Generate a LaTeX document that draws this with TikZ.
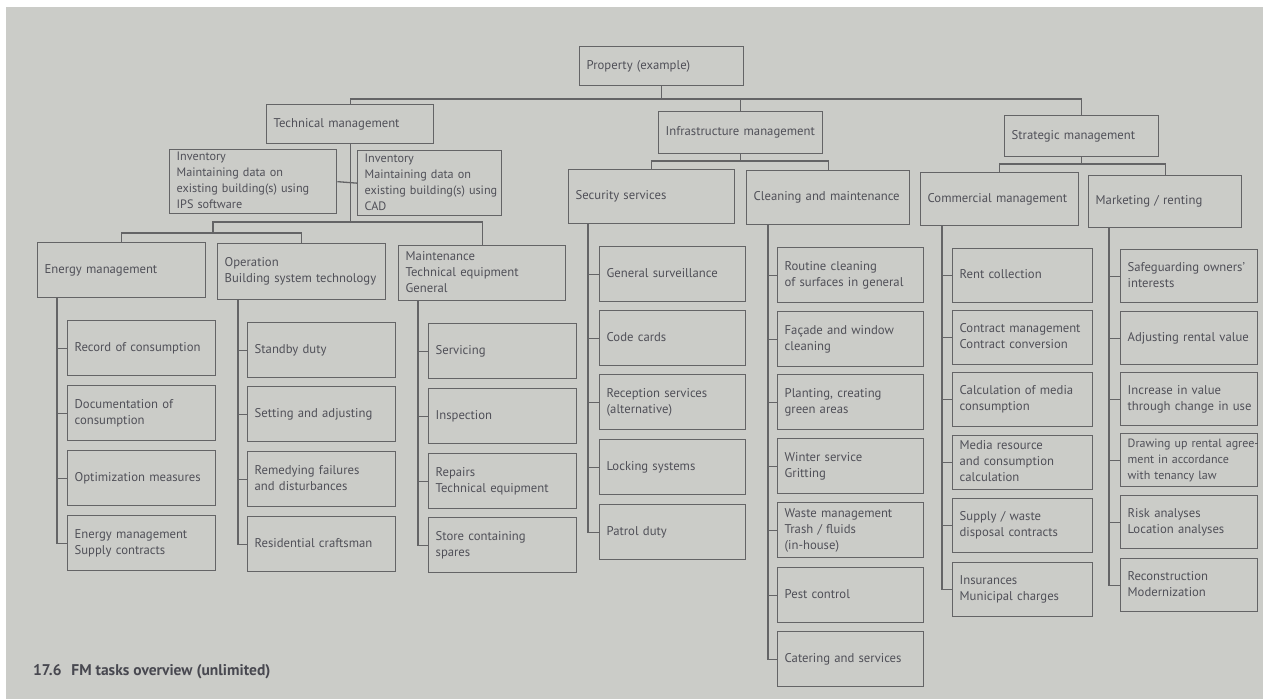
\documentclass[tikz,border=0pt]{standalone}
\usepackage{fontspec}
\setmainfont{PT Sans}
\definecolor{paper}{RGB}{203,204,200}
\definecolor{linec}{RGB}{100,100,102}
\definecolor{textc}{RGB}{80,80,88}
\definecolor{capc}{RGB}{72,72,80}
% lines of a box, kept unbroken
\newcommand\boxtext[1]{\begin{tabular}{@{}l@{}}#1\end{tabular}}
\tikzset{
  box/.style={draw=linec, line width=1.3pt, text=textc,
    font=\fontsize{12.7}{16}\selectfont, inner xsep=7pt, inner ysep=0pt,
    align=left, anchor=north west},
  small/.style={font=\fontsize{12.2}{16}\selectfont},
  link/.style={draw=linec, line width=1.3pt},
  ecol/.style={box, text width=134pt, minimum height=55pt},
  scol/.style={box, text width=132pt, minimum height=55pt},
  kcol/.style={box, text width=126pt, minimum height=54pt},
  mcol/.style={box, text width=123pt, minimum height=53pt},
}
\begin{document}
\begin{tikzpicture}[x=1pt,y=-1pt]
% page and paper
\fill[white] (0,0) rectangle (1263,699);
\fill[paper] (6,7) rectangle (1263,699);
\useasboundingbox (0,0) rectangle (1263,699);

% ---- top levels
\node[box, text width=150pt, minimum height=39pt] (prop) at (579,46) {\boxtext{Property (example)}};
\node[box, text width=153pt, minimum height=39pt] (tm) at (266,104) {\boxtext{Technical management}};
\node[box, text width=150pt, minimum height=42pt] (im) at (658,111) {\boxtext{Infrastructure management}};
\node[box, text width=140pt, minimum height=41pt] (sm) at (1004,115) {\boxtext{Strategic management}};

\coordinate (bus0) at (0,99);
\draw[link] (prop.south) -- (prop.south |- bus0) -| (tm.north);
\draw[link] (prop.south |- bus0) -| (im.north);
\draw[link] (prop.south |- bus0) -| (sm.north);

% ---- technical management
\node[box, small, text width=153pt, minimum height=64pt] (inv1) at (169,149)
  {\boxtext{Inventory\\Maintaining data on\\existing building(s) using\\IPS software}};
\node[box, small, text width=130pt, minimum height=65pt] (inv2) at (357,150)
  {\boxtext{Inventory\\Maintaining data on\\existing building(s) using\\CAD}};
\draw[link] (inv1.east) -- (inv2.west);

\node[box, text width=154pt, minimum height=55pt] (en) at (37,242) {\boxtext{Energy management}};
\node[box, text width=154pt, minimum height=56pt] (op) at (217,243)
  {\boxtext{Operation\\Building system technology}};
\node[box, text width=153pt, minimum height=55pt] (mt) at (398,245)
  {\boxtext{Maintenance\\Technical equipment\\General}};

\coordinate (tbus) at (0,222);
\coordinate (tj) at (213,233);
\draw[link] (tm.south) -- (tm.south |- tbus) -| (mt.north);
\draw[link] (tm.south |- tbus) -| (tj);
\draw[link] (tj) -| (en.north);
\draw[link] (tj) -| (op.north);

\node[ecol] (e1) at (67,320) {\boxtext{Record of consumption}};
\node[ecol] (e2) at (67,385) {\boxtext{Documentation of\\consumption}};
\node[ecol] (e3) at (67,450) {\boxtext{Optimization measures}};
\node[ecol] (e4) at (67,515) {\boxtext{Energy management\\Supply contracts}};
\foreach \c in {e1,e2,e3,e4}
  \draw[link] ([xshift=20pt]en.south west) |- (\c.west);

\node[ecol] (o1) at (247,322) {\boxtext{Standby duty}};
\node[ecol] (o2) at (247,386) {\boxtext{Setting and adjusting}};
\node[ecol] (o3) at (247,451) {\boxtext{Remedying failures\\and disturbances}};
\node[ecol] (o4) at (247,516) {\boxtext{Residential craftsman}};
\foreach \c in {o1,o2,o3,o4}
  \draw[link] ([xshift=21pt]op.south west) |- (\c.west);

\node[ecol] (m1) at (428,323) {\boxtext{Servicing}};
\node[ecol] (m2) at (428,388) {\boxtext{Inspection}};
\node[ecol] (m3) at (428,453) {\boxtext{Repairs\\Technical equipment}};
\node[ecol] (m4) at (428,517) {\boxtext{Store containing\\spares}};
\foreach \c in {m1,m2,m3,m4}
  \draw[link] ([xshift=20pt]mt.south west) |- (\c.west);

% ---- infrastructure management
\node[box, text width=152pt, minimum height=54pt] (ss) at (568,169) {\raisebox{5pt}{\boxtext{Security services}}};
\node[box, text width=149pt, minimum height=54pt] (cl) at (746,170) {\boxtext{Cleaning and maintenance}};
\coordinate (ibus) at (0,161);
\draw[link] (im.south) -- (im.south |- ibus) -| (ss.north);
\draw[link] (im.south |- ibus) -| (cl.north);

\node[scol] (s1) at (599,246) {\boxtext{General surveillance}};
\node[scol] (s2) at (599,310) {\boxtext{Code cards}};
\node[scol] (s3) at (599,374) {\boxtext{Reception services\\(alternative)}};
\node[scol] (s4) at (599,439) {\boxtext{Locking systems}};
\node[scol] (s5) at (599,504) {\boxtext{Patrol duty}};
\foreach \c in {s1,s2,s3,s4,s5}
  \draw[link] ([xshift=20pt]ss.south west) |- (\c.west);

\node[scol] (c1) at (777,247) {\boxtext{Routine cleaning\\of surfaces in general}};
\node[scol] (c2) at (777,311) {\boxtext{Façade and window\\cleaning}};
\node[scol] (c3) at (777,374) {\boxtext{Planting, creating\\green areas}};
\node[scol] (c4) at (777,438) {\boxtext{Winter service\\Gritting}};
\node[scol] (c5) at (777,502) {\boxtext{Waste management\\Trash / fluids\\(in-house)}};
\node[scol] (c6) at (777,567) {\boxtext{Pest control}};
\node[scol] (c7) at (777,631) {\boxtext{Catering and services}};
\foreach \c in {c1,c2,c3,c4,c5,c6,c7}
  \draw[link] ([xshift=22pt]cl.south west) |- (\c.west);

% ---- strategic management
\node[box, text width=144pt, minimum height=53pt] (cm) at (920,172) {\boxtext{Commercial management}};
\node[box, text width=139pt, minimum height=52pt] (mk) at (1088,175) {\boxtext{Marketing / renting}};
\coordinate (sbus) at (0,164);
\draw[link] (sm.south) -- (sm.south |- sbus) -| (cm.north);
\draw[link] (sm.south |- sbus) -| (mk.north);

\node[kcol] (k1) at (952,248) {\boxtext{Rent collection}};
\node[kcol] (k2) at (952,310) {\boxtext{Contract management\\Contract conversion}};
\node[kcol] (k3) at (952,372) {\boxtext{Calculation of media\\consumption}};
\node[kcol] (k4) at (952,435) {\boxtext{Media resource\\and consumption\\calculation}};
\node[kcol] (k5) at (952,498) {\boxtext{Supply / waste\\disposal contracts}};
\node[kcol] (k6) at (952,562) {\boxtext{Insurances\\Municipal charges}};
\foreach \c in {k1,k2,k3,k4,k5,k6}
  \draw[link] ([xshift=22pt]cm.south west) |- (\c.west);

\node[mcol] (r1) at (1120,249) {\boxtext{Safeguarding owners’\\interests}};
\node[mcol] (r2) at (1120,311) {\boxtext{Adjusting rental value}};
\node[mcol] (r3) at (1120,372) {\boxtext{Increase in value\\through change in use}};
\node[mcol, font=\fontsize{12}{16}\selectfont] (r4) at (1120,433)
  {\boxtext{Drawing up rental agree-\\ment in accordance\\with tenancy law}};
\node[mcol] (r5) at (1120,495) {\boxtext{Risk analyses\\Location analyses}};
\node[mcol] (r6) at (1120,558) {\boxtext{Reconstruction\\Modernization}};
\foreach \c in {r1,r2,r3,r4,r5,r6}
  \draw[link] ([xshift=21pt]mk.south west) |- (\c.west);

% ---- caption
\node[anchor=west, inner sep=0pt, text=capc, font=\bfseries\fontsize{15.5}{18}\selectfont]
  (cap) at (33,672) {17.6\hspace{6pt} FM tasks overview (unlimited)};
\end{tikzpicture}
\end{document}
